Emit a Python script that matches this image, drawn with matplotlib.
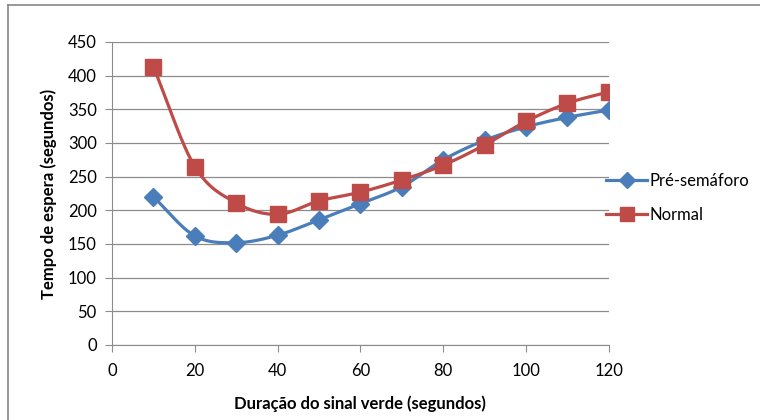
import numpy as np
import matplotlib
matplotlib.use("Agg")
import matplotlib.pyplot as plt
from matplotlib.lines import Line2D

x_vals = [10, 20, 30, 40, 50, 60, 70, 80, 90, 100, 110, 120]
pre_semaforo = [220, 162, 152, 163, 186, 210, 235, 275, 304, 324, 338, 349]
normal = [413, 265, 211, 194, 214, 227, 245, 267, 297, 332, 359, 376]
series_names = ["Pré-semáforo", "Normal"]
x_ticks = [0, 20, 40, 60, 80, 100, 120]
y_ticks = [0, 50, 100, 150, 200, 250, 300, 350, 400, 450]

plt.rcParams['font.family'] = ['Lato', 'DejaVu Sans']


def smooth(xs, ys, n=30):
    # Catmull-Rom style smoothing (like Excel's smoothed line)
    xs = np.asarray(xs, float); ys = np.asarray(ys, float)
    px = np.concatenate([[2*xs[0]-xs[1]], xs, [2*xs[-1]-xs[-2]]])
    py = np.concatenate([[2*ys[0]-ys[1]], ys, [2*ys[-1]-ys[-2]]])
    ox, oy = [], []
    for i in range(1, len(px) - 2):
        p0 = np.array([px[i-1], py[i-1]]); p1 = np.array([px[i], py[i]])
        p2 = np.array([px[i+1], py[i+1]]); p3 = np.array([px[i+2], py[i+2]])
        c1 = p1 + (p2 - p0) / 6
        c2 = p2 - (p3 - p1) / 6
        s = np.linspace(0, 1, n)[:, None]
        b = (1-s)**3*p1 + 3*(1-s)**2*s*c1 + 3*(1-s)*s**2*c2 + s**3*p2
        ox.extend(b[:, 0]); oy.extend(b[:, 1])
    return np.array(ox), np.array(oy)


blue = "#4A7EBB"
red = "#BE4B48"

fig = plt.figure(figsize=(7.6, 4.2), dpi=100)
ax = fig.add_axes([0.1474, 0.1786, 0.801 - 0.1474, 0.9 - 0.1786])

sx, sy = smooth(x_vals, pre_semaforo)
ax.plot(sx, sy, color=blue, lw=2.3, zorder=3)
ax.plot(x_vals, pre_semaforo, ls='none', marker='D', ms=9.5, color=blue, zorder=4)
sx, sy = smooth(x_vals, normal)
ax.plot(sx, sy, color=red, lw=2.3, zorder=3)
ax.plot(x_vals, normal, ls='none', marker='s', ms=11, color=red, zorder=4)

ax.set_xlim(0, 120)
ax.set_ylim(0, 450)
ax.set_xticks(x_ticks)
ax.set_yticks(y_ticks)
ax.grid(axis='y', color='#8c8c8c', lw=0.9)
ax.set_axisbelow(True)
for s in ['top', 'right']:
    ax.spines[s].set_visible(False)
for s in ['left', 'bottom']:
    ax.spines[s].set_color('#8c8c8c')
ax.tick_params(axis='both', colors='#8c8c8c', labelcolor='black', labelsize=12, length=5)
ax.tick_params(axis='x', pad=8)
ax.tick_params(axis='y', pad=6)
ax.set_xlabel("Duração do sinal verde (segundos)", fontsize=12, fontweight='bold', labelpad=12)
ax.set_ylabel("Tempo de espera (segundos)", fontsize=12, fontweight='bold', labelpad=8)

handles = [Line2D([], [], color=blue, lw=2.3, marker='D', ms=8),
           Line2D([], [], color=red, lw=2.3, marker='s', ms=10)]
fig.legend(handles, series_names, loc='upper left', bbox_to_anchor=(0.798, 0.588),
           frameon=False, fontsize=12, handlelength=2.45, handletextpad=0.15,
           labelspacing=1.05, borderpad=0, borderaxespad=0)

# chart outer border
fig.add_artist(Line2D([8/760, 8/760], [0, 1 - 5/420], transform=fig.transFigure, color='#888888', lw=1.2))
fig.add_artist(Line2D([8/760, 1], [1 - 5/420, 1 - 5/420], transform=fig.transFigure, color='#888888', lw=1.2))

fig.savefig("out.png", dpi=100)
